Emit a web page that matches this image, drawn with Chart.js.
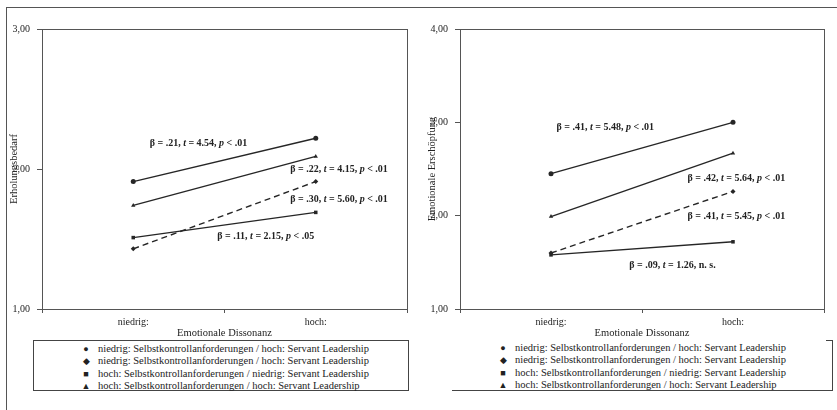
<!DOCTYPE html>
<html>
<head>
<meta charset="utf-8">
<script src="https://cdn.jsdelivr.net/npm/chart.js@4"></script>
<style>
  body { margin: 0; background: #fff; }
  #wrap { position: relative; width: 837px; height: 410px; overflow: hidden; font-family: "Liberation Serif", "Times New Roman", serif; color: #222; }
  #frameTop { position: absolute; left: 6px; top: 7px; width: 831px; height: 0; border-top: 1px solid #555; }
  #frameLeft { position: absolute; left: 6px; top: 7px; width: 0; height: 403px; border-left: 1px solid #555; }
  canvas { position: absolute; top: 0; }
  .legend { position: absolute; top: 340px; height: 51px; box-sizing: border-box; font-size: 10.5px; }
  .legend .row { position: absolute; left: 0; height: 12px; line-height: 12px; white-space: nowrap; }
  .legend .mk { position: absolute; width: 10px; text-align: center; font-size: 9px; }
  #legL { left: 33px; width: 376px; border: 1px solid #444; }
  #legR { left: 452px; width: 381px; border-right: 1px solid #444; border-bottom: 1px solid #444; }
  #legR .corner { position: absolute; right: 0; top: 0; width: 6px; border-top: 1px solid #444; }
</style>
</head>
<body>
<div id="wrap">
  <div id="frameTop"></div>
  <div id="frameLeft"></div>
  <canvas id="chartL" width="418" height="340" style="left:0px"></canvas>
  <canvas id="chartR" width="419" height="340" style="left:418px"></canvas>
  <div class="legend" id="legL"></div>
  <div class="legend" id="legR"><div class="corner"></div></div>
</div>
<script>
const categories = ["niedrig:", "hoch:"];
const seriesNames = [
  "niedrig: Selbstkontrollanforderungen / hoch: Servant Leadership",
  "niedrig: Selbstkontrollanforderungen / hoch: Servant Leadership",
  "hoch: Selbstkontrollanforderungen / niedrig: Servant Leadership",
  "hoch: Selbstkontrollanforderungen / hoch: Servant Leadership"
];
const legendMarks = ["\u25CF", "\u25C6", "\u25A0", "\u25B2"];

// Erholungsbedarf
const erholungCircle = [1.91, 2.22];
const erholungDiamond = [1.43, 1.91];
const erholungSquare = [1.51, 1.69];
const erholungTriangle = [1.74, 2.09];
const erholungTicks = [1, 2, 3];

// Emotionale Erschoepfung
const erschoepfCircle = [2.45, 3.00];
const erschoepfDiamond = [1.60, 2.26];
const erschoepfSquare = [1.58, 1.72];
const erschoepfTriangle = [1.99, 2.67];
const erschoepfTicks = [1, 2, 3, 4];

// slope labels: [category position, value, beta, t, p, rest]
const erholungNotes = [
  [0.09, 2.18, ".21", "4.54", "p", " < .01"],
  [0.86, 2.00, ".22", "4.15", "p", " < .01"],
  [0.86, 1.78, ".30", "5.60", "p", " < .01"],
  [0.46, 1.515, ".11", "2.15", "p", " < .05"]
];
const erschoepfNotes = [
  [0.03, 2.95, ".41", "5.48", "p", " < .01"],
  [0.75, 2.40, ".42", "5.64", "p", " < .01"],
  [0.75, 1.99, ".41", "5.45", "p", " < .01"],
  [0.43, 1.47, ".09", "1.26", "", ", n. s."]
];

const lineColor = "#262626";
const axisColor = "#555";
const fontFam = "'Liberation Serif', 'Times New Roman', serif";

function makeSets(c, d, s, t) {
  const base = { borderColor: lineColor, backgroundColor: lineColor, borderWidth: 1.4, pointRadius: 2.5, pointBorderWidth: 0, tension: 0 };
  return [
    Object.assign({ label: seriesNames[0], data: c, pointStyle: "circle" }, base),
    Object.assign({ label: seriesNames[1], data: d, pointStyle: "rectRot", borderDash: [6, 4] }, base),
    Object.assign({ label: seriesNames[2], data: s, pointStyle: "rect" }, base),
    Object.assign({ label: seriesNames[3], data: t, pointStyle: "triangle" }, base)
  ];
}

const boxPlugin = {
  id: "box",
  beforeDatasetsDraw(chart) {
    const a = chart.chartArea, ctx = chart.ctx;
    ctx.save();
    ctx.strokeStyle = axisColor;
    ctx.lineWidth = 1;
    ctx.strokeRect(Math.round(a.left) + 0.5, Math.round(a.top) + 0.5, Math.round(a.right - a.left), Math.round(a.bottom - a.top));
    ctx.restore();
  },
  afterDatasetsDraw(chart, args, opts) {
    const ctx = chart.ctx, xs = chart.scales.x, ys = chart.scales.y;
    ctx.save();
    ctx.fillStyle = "#222";
    ctx.textBaseline = "middle";
    (opts.notes || []).forEach(n => {
      let x = xs.getPixelForValue(n[0]);
      const y = ys.getPixelForValue(n[1]);
      const parts = [
        ["β = " + n[2] + ", ", false],
        ["t", true],
        [" = " + n[3], false],
        [n[4] ? ", " : "", false],
        [n[4], true],
        [n[5], false]
      ];
      parts.forEach(p => {
        if (!p[0]) return;
        ctx.font = (p[1] ? "italic " : "") + "bold 10px " + fontFam;
        ctx.fillText(p[0], x, y);
        x += ctx.measureText(p[0]).width;
      });
    });
    ctx.restore();
  }
};

function makeChart(id, sets, ticks, yTitle, notes, padRight) {
  new Chart(document.getElementById(id), {
    type: "line",
    data: { labels: categories, datasets: sets },
    plugins: [boxPlugin],
    options: {
      responsive: false,
      animation: false,
      layout: { padding: { top: 29, right: padRight, bottom: 0, left: 0 } },
      plugins: { legend: { display: false }, tooltip: { enabled: false }, box: { notes } },
      scales: {
        x: {
          type: "category",
          offset: true,
          grid: { drawOnChartArea: false, offset: true, tickLength: 4, color: axisColor },
          border: { color: axisColor },
          ticks: { color: "#222", font: { family: fontFam, size: 10 }, padding: 3 },
          title: { display: true, text: "Emotionale Dissonanz", color: "#222", font: { family: fontFam, size: 10.5 }, padding: { top: 0, bottom: 0 } },
          afterFit(s) { s.height = 31; }
        },
        y: {
          min: ticks[0],
          max: ticks[ticks.length - 1],
          afterBuildTicks(s) { s.ticks = ticks.map(v => ({ value: v })); },
          grid: { drawOnChartArea: false, tickLength: 5, color: axisColor },
          border: { color: axisColor },
          ticks: { color: "#222", font: { family: fontFam, size: 10 }, padding: 7, callback: v => v.toFixed(2).replace(".", ",") },
          title: { display: true, text: yTitle, color: "#222", font: { family: fontFam, size: 10.5 }, padding: { top: 8, bottom: 0 } },
          afterFit(s) { s.width = 42; }
        }
      }
    }
  });
}

makeChart("chartL", makeSets(erholungCircle, erholungDiamond, erholungSquare, erholungTriangle), erholungTicks, "Erholungsbedarf", erholungNotes, 11);
makeChart("chartR", makeSets(erschoepfCircle, erschoepfDiamond, erschoepfSquare, erschoepfTriangle), erschoepfTicks, "Emotionale Erschöpfung", erschoepfNotes, 13);

function buildLegend(id, markLeft, textLeft) {
  const box = document.getElementById(id);
  seriesNames.forEach((name, i) => {
    const row = document.createElement("div");
    row.className = "row";
    row.style.top = (2 + i * 12.3) + "px";
    row.style.width = "100%";
    const mk = document.createElement("span");
    mk.className = "mk";
    mk.style.left = markLeft + "px";
    mk.textContent = legendMarks[i];
    const tx = document.createElement("span");
    tx.style.position = "absolute";
    tx.style.left = textLeft + "px";
    tx.textContent = name;
    row.appendChild(mk);
    row.appendChild(tx);
    box.appendChild(row);
  });
}
buildLegend("legL", 47, 64);
buildLegend("legR", 46, 63);
</script>
</body>
</html>
